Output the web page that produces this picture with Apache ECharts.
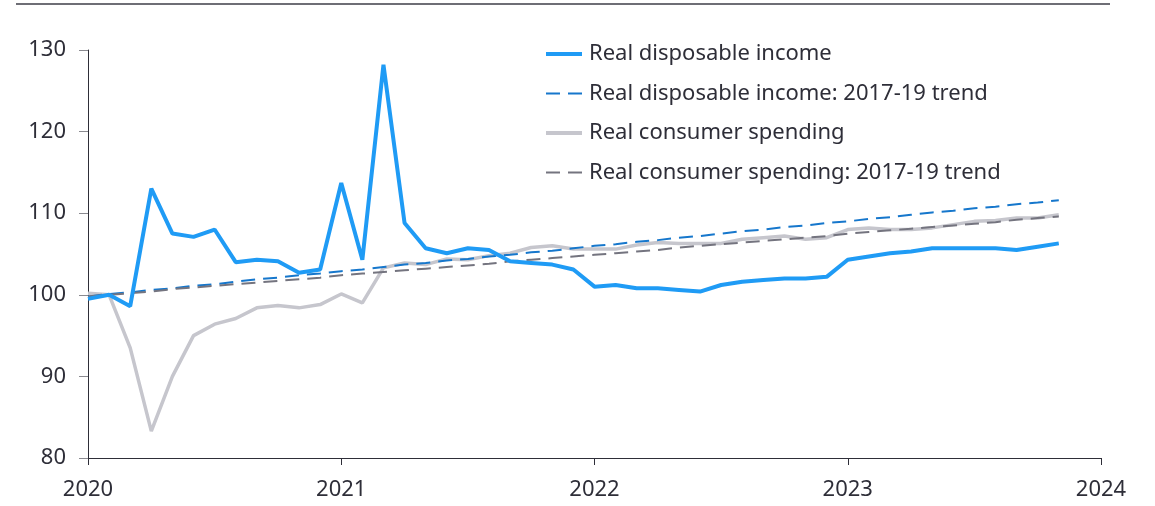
<!DOCTYPE html>
<html>
<head>
<meta charset="utf-8">
<script src="https://cdn.jsdelivr.net/npm/echarts@6/dist/echarts.min.js"></script>
<style>html,body{margin:0;padding:0;background:#fff}#c{width:1155px;height:506px}</style>
</head>
<body>
<div id="c"></div>
<script>
// Monthly observations, Jan 2020 .. Nov 2023 (index 0 = Jan 2020)
const yearTicks = ['2020', '2021', '2022', '2023', '2024'];
const incomeReal = [99.5, 100.0, 98.6, 113.0, 107.5, 107.1, 108.0, 104.0, 104.3, 104.1, 102.7, 103.1,
  113.7, 104.3, 128.2, 108.8, 105.7, 105.1, 105.7, 105.5, 104.1, 103.9, 103.7, 103.1,
  101.0, 101.2, 100.8, 100.8, 100.6, 100.4, 101.2, 101.6, 101.8, 102.0, 102.0, 102.2,
  104.3, 104.7, 105.1, 105.3, 105.7, 105.7, 105.7, 105.7, 105.5, 105.9, 106.3];
const incomeTrend = [99.8, 100.1, 100.3, 100.6, 100.8, 101.1, 101.3, 101.6, 101.9, 102.1, 102.4, 102.6,
  102.9, 103.1, 103.4, 103.7, 103.9, 104.2, 104.4, 104.7, 104.9, 105.2, 105.4, 105.7,
  106.0, 106.2, 106.5, 106.7, 107.0, 107.2, 107.5, 107.8, 108.0, 108.3, 108.5, 108.8,
  109.0, 109.3, 109.5, 109.8, 110.1, 110.3, 110.6, 110.8, 111.1, 111.3, 111.6];
const spendingReal = [100.2, 100.0, 93.5, 83.3, 90.0, 95.0, 96.4, 97.1, 98.4, 98.7, 98.4, 98.8,
  100.1, 99.0, 103.3, 103.9, 103.7, 104.4, 104.3, 104.8, 105.1, 105.8, 106.0, 105.6,
  105.6, 105.6, 106.1, 106.4, 106.3, 106.3, 106.3, 106.8, 107.0, 107.2, 106.8, 107.0,
  108.0, 108.2, 108.0, 108.0, 108.2, 108.6, 109.0, 109.1, 109.4, 109.4, 109.8];
const spendingTrend = [99.8, 100.0, 100.2, 100.4, 100.7, 100.9, 101.1, 101.3, 101.5, 101.7, 101.9, 102.1,
  102.4, 102.6, 102.8, 103.0, 103.2, 103.4, 103.6, 103.8, 104.1, 104.3, 104.5, 104.7,
  104.9, 105.1, 105.3, 105.5, 105.8, 106.0, 106.2, 106.4, 106.6, 106.8, 107.0, 107.2,
  107.5, 107.7, 107.9, 108.1, 108.3, 108.5, 108.7, 108.9, 109.2, 109.4, 109.6];
const seriesNames = ['Real disposable income', 'Real disposable income: 2017-19 trend',
  'Real consumer spending', 'Real consumer spending: 2017-19 trend'];

const toPairs = arr => arr.map((v, i) => [i, v]);
const FONT = 'Noto Sans';
const chart = echarts.init(document.getElementById('c'), null, {renderer: 'canvas'});
chart.setOption({
  animation: false,
  backgroundColor: '#fff',
  textStyle: {fontFamily: FONT},
  grid: {left: 88, right: 54, top: 50, bottom: 48, containLabel: false},
  graphic: [{type: 'line', shape: {x1: 16, y1: 4, x2: 1110, y2: 4}, style: {stroke: '#6e6e75', lineWidth: 2}}],
  legend: {
    orient: 'vertical', left: 539, top: 38, itemWidth: 36, itemHeight: 14, itemGap: 17.5,
    itemStyle: {opacity: 0},
    textStyle: {fontFamily: FONT, fontSize: 22, color: '#2e2e38', padding: [0, 0, 0, 2]},
    data: [
      {name: seriesNames[0], lineStyle: {width: 4}},
      {name: seriesNames[1], lineStyle: {width: 2}},
      {name: seriesNames[2], lineStyle: {width: 4}},
      {name: seriesNames[3], lineStyle: {width: 2}}
    ]
  },
  xAxis: {
    type: 'value', min: 0, max: 48, interval: 12,
    axisLine: {show: true, lineStyle: {color: '#2e2e38', width: 1}},
    axisTick: {show: true, length: 7, lineStyle: {color: '#2e2e38'}},
    axisLabel: {fontFamily: FONT, fontSize: 22, color: '#2e2e38', margin: 21,
      formatter: v => yearTicks[Math.round(v / 12)]},
    splitLine: {show: false}
  },
  yAxis: {
    type: 'value', min: 80, max: 130, interval: 10,
    axisLine: {show: true, lineStyle: {color: '#2e2e38', width: 1}},
    axisTick: {show: true, length: 9, lineStyle: {color: '#8a8a90'}},
    axisLabel: {fontFamily: FONT, fontSize: 22, color: '#2e2e38', margin: 22},
    splitLine: {show: false}
  },
  series: [
    {name: seriesNames[0], type: 'line', data: toPairs(incomeReal), symbol: 'none', z: 4,
      lineStyle: {color: '#1f9bf5', width: 4}, itemStyle: {color: '#1f9bf5'}},
    {name: seriesNames[1], type: 'line', data: toPairs(incomeTrend), symbol: 'none', z: 3,
      lineStyle: {color: '#1677cc', width: 2, type: [14, 8]}, itemStyle: {color: '#1677cc'}},
    {name: seriesNames[2], type: 'line', data: toPairs(spendingReal), symbol: 'none', z: 2,
      lineStyle: {color: '#c6c6cd', width: 3.5}, itemStyle: {color: '#c6c6cd'}},
    {name: seriesNames[3], type: 'line', data: toPairs(spendingTrend), symbol: 'none', z: 3,
      lineStyle: {color: '#74747f', width: 2, type: [14, 8]}, itemStyle: {color: '#74747f'}}
  ]
});
</script>
</body>
</html>
